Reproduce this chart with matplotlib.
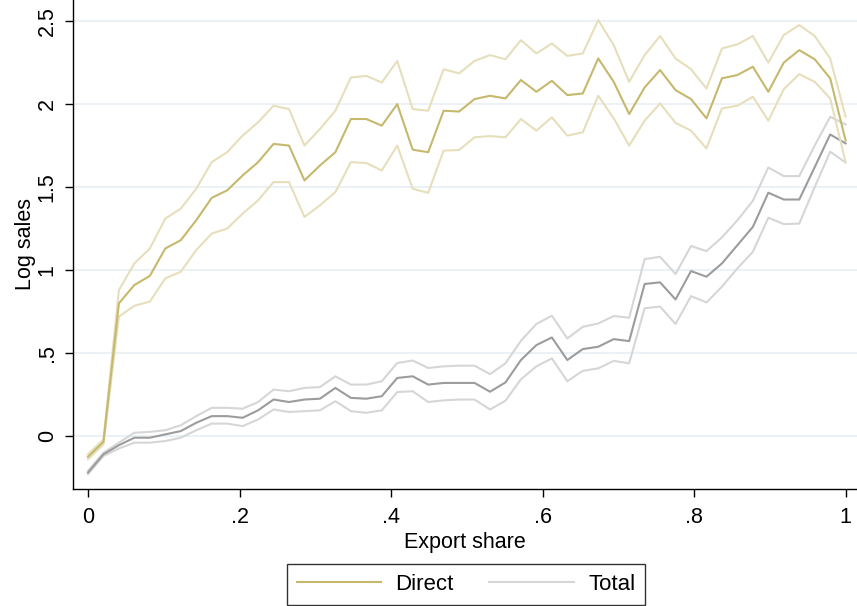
import numpy as np
import matplotlib.pyplot as plt

plt.rcParams['font.family'] = ['Liberation Sans', 'DejaVu Sans']

# export share grid (50 points between 0 and 1)
export_share = np.linspace(0, 1, 50)

direct_mean = [-0.125, -0.034, 0.80, 0.91, 0.965, 1.13, 1.18, 1.30, 1.435, 1.48,
               1.57, 1.65, 1.76, 1.75, 1.54, 1.63, 1.71, 1.91, 1.91, 1.87,
               2.00, 1.725, 1.71, 1.96, 1.955, 2.03, 2.05, 2.034, 2.145, 2.074,
               2.14, 2.054, 2.064, 2.275, 2.134, 1.94, 2.10, 2.205, 2.084, 2.03,
               1.914, 2.155, 2.175, 2.225, 2.074, 2.25, 2.325, 2.27, 2.155, 1.78]
direct_hi = [-0.11, -0.02, 0.88, 1.04, 1.13, 1.31, 1.37, 1.49, 1.65, 1.71,
             1.81, 1.89, 1.99, 1.97, 1.75, 1.85, 1.96, 2.16, 2.17, 2.13,
             2.26, 1.97, 1.96, 2.21, 2.185, 2.26, 2.295, 2.27, 2.385, 2.305,
             2.365, 2.29, 2.305, 2.506, 2.355, 2.134, 2.295, 2.41, 2.275, 2.21,
             2.094, 2.335, 2.36, 2.41, 2.25, 2.416, 2.476, 2.41, 2.275, 1.924]
direct_lo = [-0.14, -0.05, 0.72, 0.785, 0.81, 0.95, 0.99, 1.12, 1.22, 1.25,
             1.34, 1.42, 1.53, 1.53, 1.32, 1.39, 1.47, 1.65, 1.645, 1.60,
             1.75, 1.49, 1.465, 1.72, 1.723, 1.80, 1.807, 1.80, 1.91, 1.84,
             1.92, 1.81, 1.83, 2.05, 1.914, 1.75, 1.90, 2.004, 1.887, 1.84,
             1.733, 1.974, 1.99, 2.044, 1.90, 2.09, 2.18, 2.134, 2.034, 1.65]

total_mean = [-0.22, -0.11, -0.055, -0.01, -0.01, 0.01, 0.03, 0.08, 0.12, 0.12,
              0.11, 0.155, 0.22, 0.205, 0.22, 0.225, 0.29, 0.23, 0.225, 0.24,
              0.35, 0.36, 0.31, 0.32, 0.32, 0.32, 0.267, 0.323, 0.458, 0.548,
              0.594, 0.458, 0.524, 0.538, 0.584, 0.572, 0.916, 0.926, 0.823, 0.994,
              0.96, 1.04, 1.15, 1.26, 1.466, 1.425, 1.425, 1.62, 1.817, 1.763]
total_hi = [-0.21, -0.10, -0.04, 0.02, 0.025, 0.035, 0.065, 0.12, 0.17, 0.17,
            0.165, 0.205, 0.28, 0.27, 0.29, 0.295, 0.36, 0.31, 0.31, 0.33,
            0.44, 0.455, 0.41, 0.42, 0.424, 0.424, 0.373, 0.438, 0.574, 0.675,
            0.725, 0.588, 0.658, 0.678, 0.723, 0.713, 1.066, 1.08, 0.976, 1.145,
            1.114, 1.197, 1.30, 1.417, 1.618, 1.566, 1.566, 1.75, 1.923, 1.877]
total_lo = [-0.23, -0.12, -0.075, -0.04, -0.04, -0.03, -0.01, 0.035, 0.075, 0.075,
            0.06, 0.10, 0.16, 0.145, 0.15, 0.155, 0.21, 0.15, 0.14, 0.155,
            0.265, 0.27, 0.205, 0.215, 0.22, 0.22, 0.16, 0.213, 0.342, 0.42,
            0.468, 0.33, 0.393, 0.408, 0.453, 0.438, 0.77, 0.78, 0.675, 0.843,
            0.805, 0.90, 1.01, 1.11, 1.315, 1.277, 1.28, 1.50, 1.713, 1.648]

x_ticks = [0, 0.2, 0.4, 0.6, 0.8, 1.0]
x_labels = ['0', '.2', '.4', '.6', '.8', '1']
y_ticks = [0, 0.5, 1, 1.5, 2, 2.5]
y_labels = ['0', '.5', '1', '1.5', '2', '2.5']

DIRECT = '#c6b86c'
DIRECT_CI = '#e6dfbb'
TOTAL = '#9c9c9c'
TOTAL_CI = '#d6d6d6'
FS = 15.5

fig = plt.figure(figsize=(8.57, 6.06), dpi=100)
ax = fig.add_axes([73 / 857, 117 / 606, 1 - 73 / 857, 1 - 117 / 606])

for yv in y_ticks:
    ax.axhline(yv, color='#e8eff2', lw=1.2, zorder=0)

ax.plot(export_share, total_hi, color=TOTAL_CI, lw=1.5)
ax.plot(export_share, total_lo, color=TOTAL_CI, lw=1.5)
ax.plot(export_share, total_mean, color=TOTAL, lw=1.5)
ax.plot(export_share, direct_hi, color=DIRECT_CI, lw=1.5)
ax.plot(export_share, direct_lo, color=DIRECT_CI, lw=1.5)
ax.plot(export_share, direct_mean, color=DIRECT, lw=1.5)

ax.set_xlim(-0.0198, 1.015)
ax.set_ylim(-0.319, 2.627)

ax.spines['top'].set_visible(False)
ax.spines['right'].set_visible(False)
for s in ('left', 'bottom'):
    ax.spines[s].set_linewidth(1.0)

ax.set_xticks(x_ticks, x_labels, fontsize=FS)
ax.set_yticks(y_ticks, y_labels, fontsize=FS, rotation=90, va='center')
ax.tick_params(direction='out', length=6, width=1.0)
ax.tick_params(axis='x', pad=7)
ax.tick_params(axis='y', pad=5)

ax.set_xlabel('Export share', fontsize=FS, labelpad=3)
ax.set_ylabel('Log sales', fontsize=FS, labelpad=0.5)

h1, = ax.plot([], [], color=DIRECT, lw=1.5)
h2, = ax.plot([], [], color=TOTAL_CI, lw=1.5)
fig.legend([h1, h2], ['Direct', 'Total'], loc='center', bbox_to_anchor=(466 / 857, 1 - 584 / 606),
           ncol=2, fontsize=FS + 0.5, frameon=True, fancybox=False, edgecolor='black',
           handlelength=3.8, columnspacing=1.6, handletextpad=0.65, borderpad=0.45,
           borderaxespad=0)

fig.savefig('out.png', dpi=100)
